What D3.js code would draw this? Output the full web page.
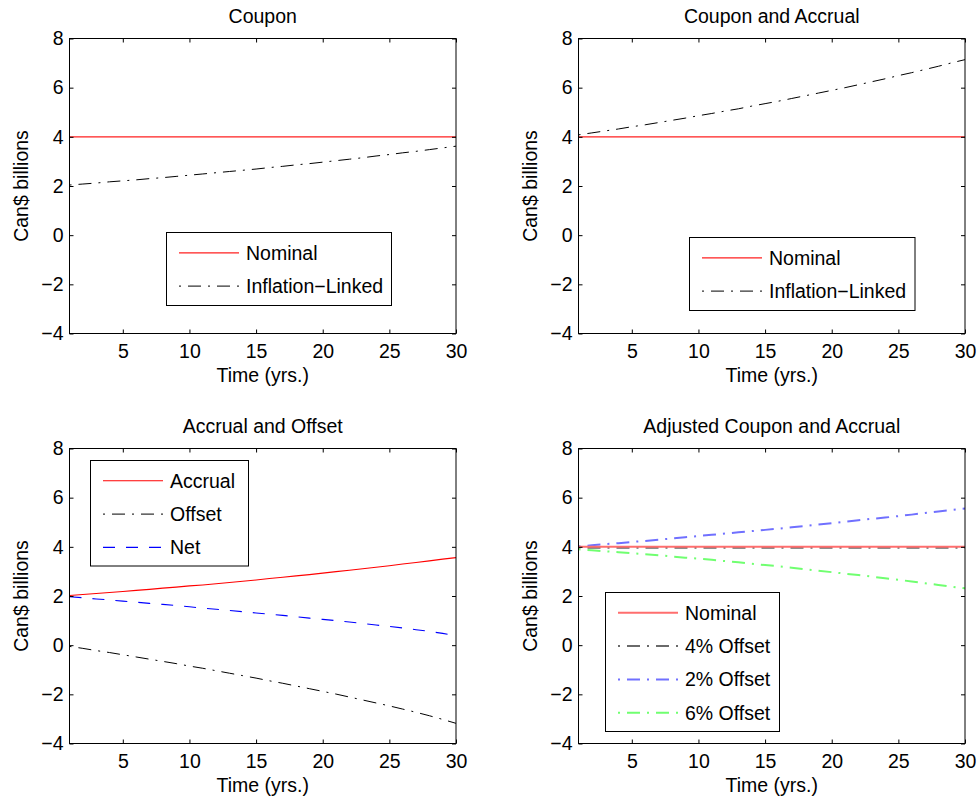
<!DOCTYPE html>
<html><head><meta charset="utf-8">
<script src="https://cdn.jsdelivr.net/npm/d3@7"></script>
<style>
body{margin:0;background:#fff}
svg{display:block}
text{font-family:"Liberation Sans",Arial,Helvetica,sans-serif;fill:#000}
</style>
</head><body>
<svg id="chart" width="980" height="799"></svg>
<script>
// ---------------- data ----------------
const years = [1,2,3,4,5,6,7,8,9,10,11,12,13,14,15,16,17,18,19,20,21,22,23,24,25,26,27,28,29,30];
const xTicks = [5,10,15,20,25,30];
const yTicks = [-4,-2,0,2,4,6,8];

// Panel 1: Coupon
const couponNominal = [4,4,4,4,4,4,4,4,4,4,4,4,4,4,4,4,4,4,4,4,4,4,4,4,4,4,4,4,4,4];
const couponInflation = [2.04,2.08,2.12,2.17,2.21,2.25,2.30,2.34,2.39,2.44,2.49,2.54,2.59,2.64,2.69,2.75,2.80,2.86,2.91,2.97,3.03,3.09,3.15,3.22,3.28,3.35,3.41,3.48,3.55,3.62];

// Panel 2: Coupon and Accrual
const caNominal = [4,4,4,4,4,4,4,4,4,4,4,4,4,4,4,4,4,4,4,4,4,4,4,4,4,4,4,4,4,4];
const caInflation = [4.08,4.16,4.24,4.32,4.41,4.49,4.58,4.67,4.76,4.86,4.95,5.05,5.14,5.25,5.35,5.45,5.56,5.67,5.78,5.89,6.00,6.12,6.24,6.36,6.49,6.61,6.74,6.87,7.01,7.14];

// Panel 3: Accrual and Offset
const accrual = [2.02,2.06,2.10,2.14,2.18,2.23,2.27,2.32,2.36,2.41,2.45,2.50,2.55,2.60,2.65,2.71,2.76,2.82,2.87,2.93,2.99,3.05,3.11,3.17,3.23,3.30,3.36,3.43,3.50,3.56];
const offset = [-0.05,-0.13,-0.22,-0.30,-0.39,-0.48,-0.57,-0.66,-0.75,-0.85,-0.94,-1.04,-1.14,-1.24,-1.34,-1.45,-1.55,-1.66,-1.77,-1.88,-1.99,-2.11,-2.23,-2.35,-2.47,-2.60,-2.73,-2.87,-3.02,-3.18];
const net = [1.97,1.93,1.88,1.84,1.79,1.75,1.70,1.66,1.61,1.56,1.51,1.46,1.41,1.36,1.31,1.26,1.21,1.16,1.10,1.05,1.00,0.94,0.88,0.82,0.76,0.70,0.63,0.56,0.48,0.38];

// Panel 4: Adjusted Coupon and Accrual
const adjNominal = [4,4,4,4,4,4,4,4,4,4,4,4,4,4,4,4,4,4,4,4,4,4,4,4,4,4,4,4,4,4];
const offset4 = [3.97,3.96,3.96,3.96,3.96,3.96,3.96,3.96,3.96,3.96,3.96,3.96,3.96,3.96,3.96,3.96,3.96,3.96,3.96,3.96,3.96,3.96,3.96,3.96,3.96,3.96,3.96,3.96,3.96,3.96];
const offset2 = [4.02,4.06,4.11,4.15,4.20,4.24,4.29,4.34,4.39,4.44,4.49,4.54,4.59,4.64,4.69,4.74,4.80,4.85,4.91,4.96,5.02,5.08,5.14,5.19,5.25,5.31,5.38,5.44,5.50,5.56];
const offset6 = [3.90,3.86,3.82,3.78,3.74,3.70,3.66,3.61,3.56,3.52,3.47,3.42,3.37,3.31,3.26,3.21,3.15,3.09,3.03,2.97,2.91,2.85,2.79,2.72,2.66,2.59,2.52,2.45,2.38,2.31];

// ---------------- styles & layout ----------------
const DASHDOT = "2,7,13,7";
const DASHED = "12,11";
const FONT = 19.5;
const TICKFONT = 19.5;

const panels = [
  {title:"Coupon", x:69.5, y:38.5, w:386.5, h:295, ylabX:28,
   legend:{x:166.5, y:232.5, w:225, h:73},
   series:[
     {name:"Nominal", values:couponNominal, color:"#ff2020", width:1.3, dash:null},
     {name:"Inflation\u2212Linked", values:couponInflation, color:"#000", width:1, dash:DASHDOT}]},
  {title:"Coupon and Accrual", x:578.5, y:38.5, w:386.5, h:295, ylabX:537,
   legend:{x:689.5, y:237.5, w:225.5, h:73},
   series:[
     {name:"Nominal", values:caNominal, color:"#ff2020", width:1.3, dash:null},
     {name:"Inflation\u2212Linked", values:caInflation, color:"#000", width:1, dash:DASHDOT}]},
  {title:"Accrual and Offset", x:69.5, y:448.5, w:386.5, h:295, ylabX:28,
   legend:{x:90.5, y:460.5, w:158, h:105.5},
   series:[
     {name:"Accrual", values:accrual, color:"#ff0000", width:1.1, dash:null},
     {name:"Offset", values:offset, color:"#000", width:1, dash:DASHDOT},
     {name:"Net", values:net, color:"#0000ff", width:1.1, dash:DASHED}]},
  {title:"Adjusted Coupon and Accrual", x:578.5, y:448.5, w:386.5, h:295, ylabX:537,
   legend:{x:605.5, y:592.5, w:174, h:139},
   series:[
     {name:"Nominal", values:adjNominal, color:"#ff6e6e", width:2, dash:null},
     {name:"4% Offset", values:offset4, color:"#6a6a6a", width:2, dash:DASHDOT},
     {name:"2% Offset", values:offset2, color:"#7070ff", width:2, dash:DASHDOT},
     {name:"6% Offset", values:offset6, color:"#70ff70", width:2, dash:DASHDOT}]}
];

const svg = d3.select("#chart");

panels.forEach(p => {
  const g = svg.append("g");
  const x = d3.scaleLinear().domain([1,30]).range([p.x, p.x + p.w]);
  const y = d3.scaleLinear().domain([-4,8]).range([p.y + p.h, p.y]);

  const clipId = "clip" + Math.round(p.x) + "_" + Math.round(p.y);
  svg.append("clipPath").attr("id", clipId).append("rect")
    .attr("x", p.x).attr("y", p.y).attr("width", p.w).attr("height", p.h);

  // series
  const line = d3.line().x((d,i) => x(years[i])).y(d => y(d));
  const plot = g.append("g").attr("clip-path", `url(#${clipId})`);
  p.series.slice().reverse().forEach(s => {
    plot.append("path").datum(s.values)
      .attr("d", line)
      .attr("fill", "none")
      .attr("stroke", s.color)
      .attr("stroke-width", s.width)
      .attr("stroke-dasharray", s.dash);
  });

  // axes (ticks inside)
  const bottom = g.append("g").attr("transform", `translate(0,${p.y + p.h})`)
    .call(d3.axisBottom(x).tickValues(xTicks).tickFormat(d3.format("d")).tickSize(-4).tickSizeOuter(0).tickPadding(11));
  const top = g.append("g").attr("transform", `translate(0,${p.y})`)
    .call(d3.axisTop(x).tickValues(xTicks).tickFormat("").tickSize(-4).tickSizeOuter(0));
  const left = g.append("g").attr("transform", `translate(${p.x},0)`)
    .call(d3.axisLeft(y).tickValues(yTicks).tickFormat(d3.format("d")).tickSize(-4).tickSizeOuter(0).tickPadding(6));
  const right = g.append("g").attr("transform", `translate(${p.x + p.w},0)`)
    .call(d3.axisRight(y).tickValues(yTicks).tickFormat("").tickSize(-4).tickSizeOuter(0));
  [bottom, top, left, right].forEach(a => {
    a.attr("font-size", TICKFONT).attr("font-family", '"Liberation Sans",Arial,sans-serif');
    a.select(".domain").remove();
    a.selectAll("line").attr("stroke", "#000");
    a.selectAll("text").attr("fill", "#000");
  });
  g.append("rect").attr("x", p.x).attr("y", p.y).attr("width", p.w).attr("height", p.h)
    .attr("fill", "none").attr("stroke", "#000").attr("stroke-width", 1);

  // title and labels
  g.append("text").attr("x", p.x + p.w/2).attr("y", p.y - 15.5)
    .attr("text-anchor", "middle").attr("font-size", FONT).text(p.title);
  g.append("text").attr("x", p.x + p.w/2).attr("y", p.y + p.h + 48)
    .attr("text-anchor", "middle").attr("font-size", FONT).text("Time (yrs.)");
  g.append("text").attr("transform", `translate(${p.ylabX},${p.y + p.h/2}) rotate(-90)`)
    .attr("text-anchor", "middle").attr("font-size", FONT).text("Can$ billions");

  // legend
  const L = p.legend;
  const lg = g.append("g");
  lg.append("rect").attr("x", L.x).attr("y", L.y).attr("width", L.w).attr("height", L.h)
    .attr("fill", "#fff").attr("stroke", "#000").attr("stroke-width", 1);
  p.series.forEach((s, i) => {
    const ry = L.y + 20.3 + 33.3 * i;
    lg.append("line").attr("x1", L.x + 12.5).attr("x2", L.x + 72.5)
      .attr("y1", ry).attr("y2", ry)
      .attr("stroke", s.color).attr("stroke-width", s.width)
      .attr("stroke-dasharray", s.dash);
    lg.append("text").attr("x", L.x + 79.5).attr("y", ry + 7)
      .attr("font-size", FONT).text(s.name);
  });
});
</script>
</body></html>
